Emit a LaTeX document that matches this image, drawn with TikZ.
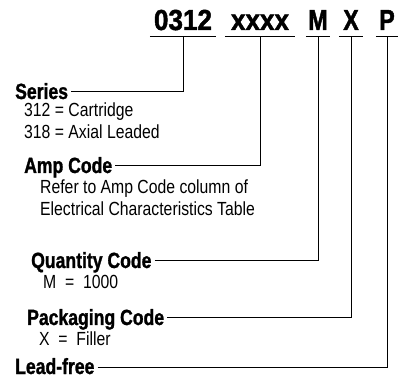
\documentclass[tikz,border=0pt]{standalone}
\usepackage{fontspec}
\setmainfont{Liberation Sans}[FakeStretch=0.83,BoldFeatures={FakeStretch=0.8,FakeBold=1.2}]
\newfontfamily\codefont{Liberation Sans}[FakeStretch=0.8,BoldFeatures={FakeStretch=0.8,FakeBold=1.5}]
\newfontfamily\codewide{Liberation Sans}[FakeStretch=0.9,BoldFeatures={FakeStretch=0.9,FakeBold=1.5}]
\usepackage{tikz}
\usetikzlibrary{positioning}
\newcommand{\codesize}{\fontsize{29}{30}\selectfont}
\newcommand{\fieldfont}{\fontsize{22}{24}\selectfont\bfseries}
\newcommand{\descfont}{\fontsize{19}{22}\selectfont}

\begin{document}
\begin{tikzpicture}[
  x=1pt,y=-1pt,
  code/.style={font=\codesize\codefont\bfseries,anchor=base,inner xsep=0pt,
    inner ysep=6pt,text depth=0pt},
  widecode/.style={code,font=\codesize\codewide\bfseries},
  field/.style={font=\fieldfont,anchor=base west,inner xsep=3pt,inner ysep=0pt,
    text height=14pt,text depth=0pt},
  desc/.style={font=\descfont,anchor=base west,inner sep=0pt},
  lead/.style={line width=1pt}
]
\useasboundingbox (0,0) rectangle (399,379);

\node[widecode,minimum width=66pt] (serc) at (183,30) {0312};
\node[widecode,minimum width=70pt] (ampc) at (260,30) {xxxx};
\node[code,minimum width=24pt] (qtyc) at (318,30) {M};
\node[code,minimum width=24pt] (pkgc) at (351,30) {X};
\node[code,minimum width=22pt] (lfc) at (387,30) {P};

\foreach \c in {serc,ampc,qtyc,pkgc,lfc}
  \draw[lead] (\c.south west) -- (\c.south east);

\node[field] (ser) at (12,99) {Series};
\node[desc] (ser1) at (24,117) {312 = Cartridge};
\node[desc] (ser2) at (24,139) {318 = Axial Leaded};

\node[field] (amp) at (21,173) {Amp Code};
\node[desc] (amp1) at (40,194) {Refer to Amp Code column of};
\node[desc] (amp2) at (40,216) {Electrical Characteristics Table};

\node[field] (qty) at (28,268) {Quantity Code};
\node[desc] (qty1) at (43,289) {M \ = \ 1000};

\node[field] (pkg) at (24,325) {Packaging Code};
\node[desc] (pkg1) at (39,345) {X \ = \ Filler};

\node[field] (lf) at (12,374) {Lead-free};

\draw[lead] (ser.east) -| (serc.south);
\draw[lead] (amp.east) -| (ampc.south);
\draw[lead] (qty.east) -| (qtyc.south);
\draw[lead] (pkg.east) -| (pkgc.south);
\draw[lead] (lf.east) -| (lfc.south);
\end{tikzpicture}
\end{document}
